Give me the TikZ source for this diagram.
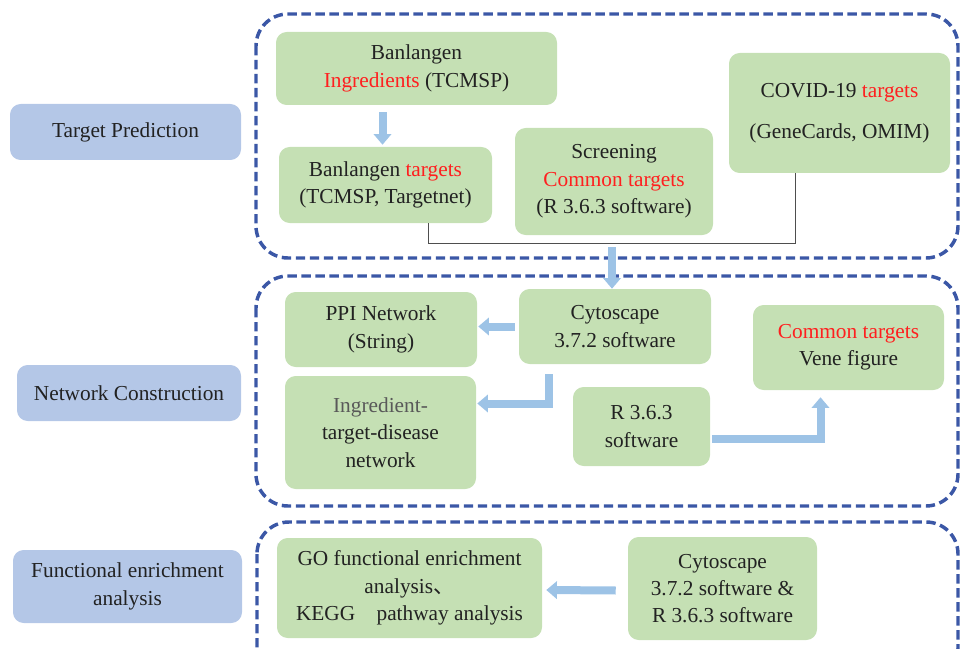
\documentclass[tikz,border=0pt]{standalone}
\usepackage{fontspec}
\setmainfont{Liberation Serif}
\newfontfamily\cjk{Noto Sans CJK SC}
\usepackage{tikz}
\usetikzlibrary{arrows.meta,calc,positioning}
\definecolor{labelblue}{HTML}{B4C7E7}
\definecolor{stepgreen}{HTML}{C5E0B4}
\definecolor{framecol}{HTML}{3B57A6}
\definecolor{arrowcol}{HTML}{9DC3E6}
\definecolor{textcol}{HTML}{222222}
\definecolor{hilite}{HTML}{FF1F1F}

\begin{document}
\begin{tikzpicture}[
x=0.75pt, y=-0.75pt,
wh/.style 2 args={minimum width=#1*0.75pt, minimum height=#2*0.75pt},
stepbox/.style={
		fill=stepgreen,
		rounded corners=8pt,
		inner sep=0pt,
		align=center,
		text=textcol,
		font=\fontsize{16}{20.5}\selectfont,
		},
phasebox/.style={stepbox, fill=labelblue},
frame/.style={draw=framecol, line width=2.6pt, dash pattern=on 7pt off 3.5pt, rounded corners=24pt},
fatarrow/.style={draw=arrowcol, line width=6pt, -{Triangle[width=13pt,length=8pt]}},
link/.style={draw=textcol!80, line width=0.8pt}
]

\def \hl #1{\textcolor{hilite}{#1}}

\clip (0,0) rectangle (960,649);

% phases
\node[phasebox, wh={231}{56}] (tp) at (125.5,132) {Target Prediction};
\node[phasebox, wh={224}{56}] (nc) at (129,393) {Network Construction};
\node[phasebox, wh={229}{73}] (fe) at (127.5,586.5) {Functional enrichment\\analysis};

\draw[frame] (256,14) rectangle (958,258);
\draw[frame] (256,276) rectangle (958,506);
\draw[frame] (257,522) rectangle (958,680);

% target prediction
\node[stepbox, wh={281}{73}] (ingr) at (416.5,68.5) {Banlangen\\\hl{Ingredients} (TCMSP)};
\node[stepbox, wh={213}{76}] (bltg) at (385.5,185) {Banlangen \hl{targets}\\(TCMSP, Targetnet)};
\node[stepbox, wh={198}{107}] (scrn) at (614,181.5) {Screening\\\hl{Common targets}\\(R 3.6.3 software)};
\node[stepbox, wh={221}{120}] (covid) at (839.5,113) {COVID-19 \hl{targets}\\[10pt](GeneCards, OMIM)};

\draw[fatarrow] ($(ingr.south -| bltg.north)+(-3,7)$) -- ($(bltg.north)+(-3,-2)$);
\draw[link] ($(bltg.south)+(43,0)$) -- ++(0,20) -| ($(covid.south)+(-44,0)$);

% network construction
\node[stepbox, wh={192}{75}] (ppi) at (381,329.5) {PPI Network\\(String)};
\node[stepbox, wh={192}{75}] (cyto) at (615,326.5) {Cytoscape\\3.7.2 software};
\node[stepbox, wh={191}{113}] (itd) at (380.5,432.5) {\textcolor{textcol!75}{Ingredient-}\\target-disease\\network};
\node[stepbox, wh={137}{79}] (rsoft) at (641.5,426.5) {R 3.6.3\\software};
\node[stepbox, wh={191}{85}] (vene) at (848.5,347.5) {\hl{Common targets}\\Vene figure};

\draw[fatarrow] ($(scrn.south)+(-2,12)$) -- ($(scrn.south |- cyto.north)+(-2,0)$);
\draw[fatarrow] ($(cyto.west)+(-4,0)$) -- ($(cyto.west -| ppi.east)+(1,0)$);
\draw[fatarrow] ($(cyto.south)+(-66,10)$) |- ($(itd.east)+(1,-29)$);
\draw[fatarrow] ($(rsoft.east)+(2,12)$) -| ($(vene.south)+(-28,7)$);

% functional enrichment
\node[stepbox, wh={265}{100}] (go) at (409.5,588) {GO functional enrichment\\analysis{\cjk 、}\\KEGG\quad pathway analysis};
\node[stepbox, wh={189}{103}] (cytor) at (722.5,588.5) {Cytoscape\\3.7.2 software \&\\R 3.6.3 software};

\draw[fatarrow] ($(cytor.west)+(-12,2)$) -- ($(go.east)+(4,2)$);

\end{tikzpicture}
\end{document}
